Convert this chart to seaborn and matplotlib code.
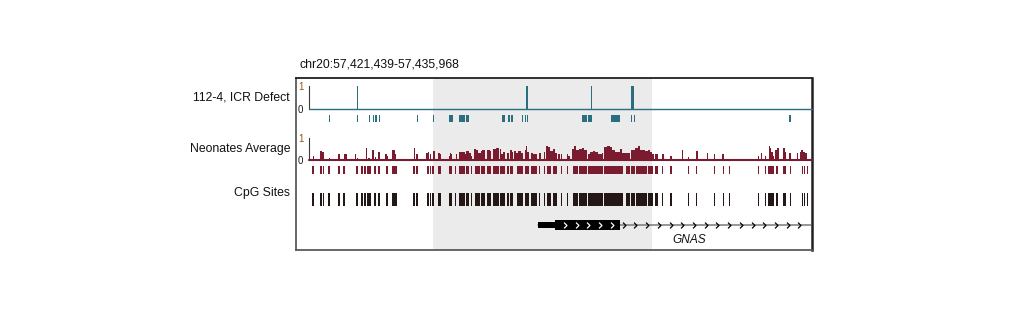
import numpy as np
import matplotlib
matplotlib.use("Agg")
import matplotlib.pyplot as plt
import seaborn as sns

# ---------------- data ----------------
REGION_CHROM = "chr20"
REGION_START = 57421439
REGION_END = 57435968

TRACK_LABELS = ["112-4, ICR Defect", "Neonates Average", "CpG Sites"]
GENE_NAME = "GNAS"

# highlighted region, bp offsets from REGION_START
hilite_start, hilite_end = 3567, 9918

# CpG sites (bp offsets); single sites have start == end, dense clusters are intervals
cpg_start = [87, 296, 386, 551, 841, 986, 1363, 1508, 1595, 1682, 1740, 1885, 2001, 2233,
             2378, 3016, 3103, 3393, 3500, 3567, 3712, 4022, 4214, 4312, 4533, 4660, 4794,
             4950, 5142, 5316, 5501, 5704, 5791, 6003, 6226, 6400, 6641, 6786, 6882, 7047,
             7299, 7473, 7636, 7801, 8053, 8535, 9164, 9309, 9454, 9811, 10005, 10228, 10469,
             10971, 11203, 11725, 11986, 12160, 13001, 13204, 13311, 13369, 13427, 13523,
             13717, 13929, 14277, 14346, 14422]
cpg_end = [87, 345, 386, 551, 841, 986, 1363, 1508, 1595, 1682, 1740, 1885, 2001, 2233,
           2533, 3016, 3103, 3460, 3500, 3567, 3808, 4127, 4214, 4486, 4602, 4698, 4921,
           5066, 5258, 5472, 5664, 5762, 5887, 6177, 6342, 6592, 6679, 6824, 6998, 7172,
           7299, 7473, 7763, 8024, 8488, 9068, 9280, 9425, 9782, 9938, 10083, 10228, 10469,
           10971, 11203, 11725, 11986, 12160, 13001, 13204, 13311, 13369, 13427, 13572,
           13795, 13929, 14277, 14346, 14422]

# sites covered in sample 112-4
icr_site_start = [571, 1383, 1720, 1836, 1914, 2010, 3112, 3576, 4040, 4321, 4524, 5559, 5742,
                  5829, 6168, 6244, 6293, 7888, 8071, 8729, 9309, 9387, 13920]
icr_site_end = [571, 1383, 1720, 1836, 1914, 2010, 3112, 3576, 4138, 4495, 4611, 5655, 5791,
                5878, 6168, 6244, 6331, 8024, 8178, 8990, 9338, 9425, 13920]

# methylation of 112-4 (non-zero values only)
icr_bar_start = [1368, 6264, 8143, 9309]
icr_bar_end = [1398, 6322, 8173, 9396]
icr_bar_value = [1.0, 1.0, 1.0, 1.0]

# neonates average methylation
neo_start = [81, 290, 348, 545, 812, 986, 1310, 1357, 1513, 1618, 1696, 1789, 1879, 1972, 2189,
             2227, 2369, 2465, 3010, 3088, 3364, 3431, 3485, 3567, 3712, 3761, 4022, 4060, 4098,
             4228, 4312, 4486, 4533, 4602, 4660, 4756, 4823, 4872, 4950, 4997, 5133, 5211, 5316,
             5403, 5501, 5548, 5597, 5704, 5791, 5858, 5916, 5983, 6032, 6129, 6226, 6273, 6302,
             6400, 6476, 6641, 6786, 6853, 6911, 6960, 7047, 7105, 7192, 7284, 7458, 7496, 7607,
             7665, 7705, 7801, 7879, 7955, 8053, 8120, 8216, 8265, 8361, 8460, 8535, 8604, 8700,
             8749, 8845, 8990, 9039, 9135, 9309, 9425, 9522, 9570, 9715, 9793, 9860, 9927, 10005,
             10217, 10454, 10793, 10956, 11203, 11507, 11710, 11962, 12145, 12986, 13073, 13189,
             13297, 13331, 13369, 13427, 13494, 13543, 13717, 13775, 13891, 14113, 14197, 14247,
             14296, 14363]
neo_end = [111, 348, 392, 575, 870, 1059, 1340, 1387, 1543, 1648, 1726, 1856, 1909, 2030, 2219,
           2257, 2465, 2494, 3040, 3118, 3431, 3460, 3515, 3616, 3761, 3808, 4060, 4098, 4127,
           4258, 4486, 4533, 4602, 4660, 4698, 4823, 4872, 4950, 4997, 5066, 5211, 5258, 5403,
           5481, 5548, 5597, 5664, 5762, 5858, 5887, 5983, 6032, 6129, 6177, 6273, 6302, 6342,
           6476, 6592, 6690, 6824, 6911, 6960, 7047, 7105, 7172, 7250, 7314, 7488, 7526, 7665,
           7705, 7801, 7879, 7955, 8024, 8120, 8216, 8265, 8361, 8460, 8497, 8604, 8700, 8749,
           8845, 8990, 9039, 9135, 9280, 9425, 9522, 9570, 9715, 9793, 9860, 9927, 9985, 10083,
           10275, 10484, 10823, 10986, 11252, 11537, 11740, 12002, 12175, 13016, 13103, 13219,
           13331, 13369, 13427, 13456, 13543, 13601, 13775, 13804, 13940, 14143, 14247, 14296,
           14363, 14421]
neo_value = [0.18, 0.40, 0.37, 0.09, 0.27, 0.30, 0.27, 0.10, 0.07, 0.54, 0.10, 0.45, 0.13, 0.36,
             0.27, 0.20, 0.45, 0.27, 0.54, 0.27, 0.31, 0.39, 0.30, 0.40, 0.31, 0.27, 0.19, 0.34,
             0.28, 0.30, 0.36, 0.30, 0.42, 0.31, 0.18, 0.52, 0.45, 0.34, 0.43, 0.48, 0.48, 0.40,
             0.52, 0.55, 0.52, 0.30, 0.37, 0.31, 0.45, 0.37, 0.40, 0.33, 0.42, 0.34, 0.45, 0.63,
             0.37, 0.33, 0.27, 0.33, 0.37, 0.63, 0.58, 0.40, 0.52, 0.33, 0.30, 0.30, 0.28, 0.18,
             0.52, 0.63, 0.45, 0.49, 0.57, 0.45, 0.30, 0.37, 0.42, 0.37, 0.30, 0.34, 0.60, 0.64,
             0.58, 0.45, 0.37, 0.52, 0.33, 0.34, 0.45, 0.55, 0.63, 0.45, 0.40, 0.45, 0.37, 0.30,
             0.27, 0.27, 0.18, 0.45, 0.13, 0.40, 0.31, 0.27, 0.27, 0.05, 0.18, 0.31, 0.18, 0.63,
             0.55, 0.37, 0.19, 0.45, 0.57, 0.57, 0.37, 0.31, 0.31, 0.36, 0.45, 0.37, 0.33]

# GNAS transcript (bp offsets, extends past the window)
gene_tx_start, gene_tx_end = 6612, 15200
gene_utr_start, gene_utr_end = 6612, 7105
gene_cds_start, gene_cds_end = 7105, 8990

# ---------------- style ----------------
sns.set_style("white")
plt.rcParams['font.family'] = ['Liberation Sans', 'DejaVu Sans']

TEAL = "#2b6e7d"
MAROON = "#7a1b2f"
CPGC = "#231815"
GRAY_BG = "#ebebeb"
ONE_COL = "#8b5a14"

W, H = 1021, 314
fig = plt.figure(figsize=(W / 100, H / 100), dpi=100)


def rect(x0, y0, x1, y1):
    return [x0 / W, 1 - y1 / H, (x1 - x0) / W, (y1 - y0) / H]


span = REGION_END - REGION_START
bp_per_px = span / (811 - 310)


def xl(px0, px1):
    return ((px0 - 310) * bp_per_px, (px1 - 310) * bp_per_px)


def widths(s, e, minw=38):
    s = np.asarray(s, float)
    e = np.asarray(e, float)
    w = np.maximum(e - s, minw)
    c = (s + e) / 2
    return list(zip(c - w / 2, w))


# frame + highlight
axb = fig.add_axes(rect(296, 78, 812, 250))
axb.set_xlim(*xl(296, 812))
axb.set_ylim(0, 1)
axb.axvspan(hilite_start, hilite_end, color=GRAY_BG, lw=0, zorder=0)
axb.set_xticks([])
axb.set_yticks([])
for side, sp in axb.spines.items():
    sp.set_visible(True)
    sp.set_linewidth(1.3)
    sp.set_color("#231f20" if side in ("top", "right") else "#5a5a5a")
axb.spines['right'].set_linewidth(1.8)


def track_axes(y_top, y_bot, color, lw_base):
    ax = fig.add_axes(rect(309, y_top, 812, y_bot))
    ax.set_facecolor("none")
    ax.set_xlim(*xl(309, 812))
    ax.set_ylim(0, 1)
    for side in ("top", "right", "bottom"):
        ax.spines[side].set_visible(False)
    ax.spines['left'].set_color("#3a3a3a")
    ax.spines['left'].set_linewidth(0.8)
    ax.set_xticks([])
    ax.set_yticks([0, 1])
    ax.set_yticklabels(["0", "1"])
    ax.tick_params(axis='y', direction='in', length=2, width=0.8, pad=4.0,
                   labelsize=7, colors="#3a3a3a")
    ax.get_yticklabels()[1].set_color(ONE_COL)
    ax.get_yticklabels()[0].set_color("#231815")
    ax.axhline(0, color=color, lw=lw_base, clip_on=False, zorder=3)
    return ax


def tick_axes(y_top, y_bot):
    ax = fig.add_axes(rect(309, y_top, 812, y_bot))
    ax.set_facecolor("none")
    ax.set_xlim(*xl(309, 812))
    ax.set_ylim(0, 1)
    ax.axis("off")
    return ax


# track 1: 112-4
ax1 = track_axes(85.5, 109, TEAL, 1.0)
ax1.bar(icr_bar_start, icr_bar_value, width=np.maximum(np.subtract(icr_bar_end, icr_bar_start), 36),
        align='edge', color=TEAL, lw=0, zorder=2)
ax1t = tick_axes(114.5, 122)
ax1t.broken_barh(widths(icr_site_start, icr_site_end), (0, 1), color=TEAL, lw=0)

# track 2: neonates average
ax2 = track_axes(138, 160.2, MAROON, 1.5)
ax2.bar(neo_start, neo_value, width=np.subtract(neo_end, neo_start), align='edge',
        color=MAROON, lw=0, zorder=2)
ax2t = tick_axes(165.7, 174)
ax2t.broken_barh(widths(cpg_start, cpg_end), (0, 1), color=MAROON, lw=0)

# track 3: CpG sites
ax3 = tick_axes(192.7, 206)
ax3.broken_barh(widths(cpg_start, cpg_end), (0, 1), color=CPGC, lw=0)

# gene track
axg = fig.add_axes(rect(309, 217, 811, 233))
axg.set_facecolor("none")
axg.set_xlim(*xl(309, 811))
axg.set_ylim(-8, 8)
axg.axis("off")
axg.plot([gene_tx_start, gene_tx_end], [0, 0], color="#7a7a7a", lw=1.1, zorder=1)
axg.broken_barh([(gene_utr_start, gene_utr_end - gene_utr_start)], (-2.8, 5.6), color="black", lw=0, zorder=2)
axg.broken_barh([(gene_cds_start, gene_cds_end - gene_cds_start)], (-4.6, 9.2), color="black", lw=0, zorder=2)
chev = np.arange(gene_cds_start + 290, span, 340)
in_cds = (chev > gene_cds_start) & (chev < gene_cds_end - 60)
marker = [(-0.5, 1.0), (0.5, 0.0), (-0.5, -1.0)]
axg.plot(chev[in_cds], np.zeros(in_cds.sum()), ls="none", marker=marker, ms=4.2, mew=0.9,
         mec="white", mfc="none", zorder=3)
axg.plot(chev[~in_cds], np.zeros((~in_cds).sum()), ls="none", marker=marker, ms=4.2, mew=0.9,
         mec="black", mfc="none", zorder=3)

# texts
fs = 8.8
fig.text(300 / W, 1 - 67.3 / H, f"{REGION_CHROM}:{REGION_START:,}-{REGION_END:,}",
         ha="left", va="baseline", fontsize=fs, color="#111111")
for lab, yb in zip(TRACK_LABELS, [100.5, 151.5, 196.3]):
    fig.text(290 / W, 1 - yb / H, lab, ha="right", va="baseline", fontsize=fs, color="#111111")
fig.text(689 / W, 1 - 243.3 / H, GENE_NAME, ha="center", va="baseline", fontsize=8.6,
         style="italic", color="#111111")

fig.savefig("out.png", dpi=100)
